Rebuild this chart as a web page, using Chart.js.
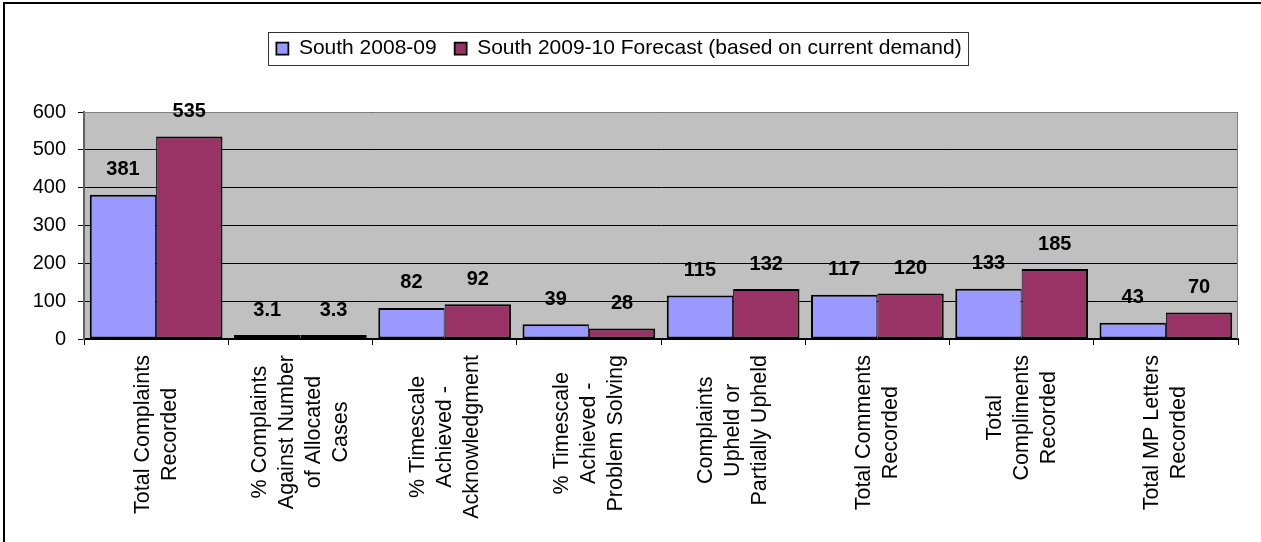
<!DOCTYPE html>
<html>
<head>
<meta charset="utf-8">
<script src="https://cdn.jsdelivr.net/npm/chart.js@4.4.0/dist/chart.umd.min.js"></script>
<style>
  body { margin: 0; background: #fff; }
  #wrap { width: 1261px; height: 542px; }
</style>
</head>
<body>
<div id="wrap"><canvas id="chart" width="1261" height="542"></canvas></div>
<script>
// categories, one array of lines per group
const categories = [
  ["Total Complaints", "Recorded"],
  ["% Complaints", "Against Number", "of Allocated", "Cases"],
  ["% Timescale", "Achieved -", "Acknowledgment"],
  ["% Timescale", "Achieved -", "Problem Solving"],
  ["Complaints", "Upheld or", "Partially Upheld"],
  ["Total Comments", "Recorded"],
  ["Total", "Compliments", "Recorded"],
  ["Total MP Letters", "Recorded"]
];
const seriesNames = ["South 2008-09", "South 2009-10 Forecast (based on current demand)"];
const south0809 = [381, 3.1, 82, 39, 115, 117, 133, 43];
const south0910 = [535, 3.3, 92, 28, 132, 120, 185, 70];
const yTickValues = [0, 100, 200, 300, 400, 500, 600];

const FONT = '"Liberation Sans", Arial, sans-serif';
Chart.defaults.font.family = FONT;
Chart.defaults.color = "#000";

// white page, grey plot background, frame lines
const framePlugin = {
  id: "frame",
  beforeDraw(chart) {
    const { ctx, chartArea: a } = chart;
    ctx.save();
    ctx.fillStyle = "#fff";
    ctx.fillRect(0, 0, chart.width, chart.height);
    ctx.fillStyle = "#C0C0C0";
    ctx.fillRect(a.left, a.top, a.right - a.left, a.bottom - a.top);
    ctx.restore();
  },
  beforeDatasetsDraw(chart) {
    const { ctx, chartArea: a } = chart;
    const top = Math.round(a.top) + 0.5;
    const right = Math.round(a.right) - 0.5;
    ctx.save();
    ctx.strokeStyle = "#808080";
    ctx.lineWidth = 1;
    ctx.beginPath();
    ctx.moveTo(a.left, top);
    ctx.lineTo(right, top);
    ctx.lineTo(right, a.bottom);
    ctx.stroke();
    ctx.restore();
  },
  afterDraw(chart) {
    const { ctx } = chart;
    ctx.save();
    ctx.strokeStyle = "#000";
    ctx.lineWidth = 2;
    ctx.beginPath();
    ctx.moveTo(4, chart.height);
    ctx.lineTo(4, 3);
    ctx.lineTo(chart.width, 3);
    ctx.stroke();
    ctx.restore();
  }
};

// extra room under the legend, and a box round it
const legendPlugin = {
  id: "legendBox",
  afterInit(chart) {
    const legend = chart.legend;
    const fit = legend.fit;
    legend.fit = function () {
      fit.call(this);
      this.height += 43;
    };
  },
  afterDraw(chart) {
    const boxes = chart.legend.legendHitBoxes;
    if (!boxes || !boxes.length) return;
    const first = boxes[0];
    const last = boxes[boxes.length - 1];
    const { ctx } = chart;
    ctx.save();
    ctx.strokeStyle = "#333";
    ctx.lineWidth = 1;
    const x0 = Math.round(first.left - 8) + 0.5;
    const x1 = Math.round(last.left + last.width + 6) + 0.5;
    const y0 = Math.round(first.top - 6) + 0.5;
    const y1 = Math.round(first.top + first.height + 6) + 0.5;
    ctx.strokeRect(x0, y0, x1 - x0, y1 - y0);
    ctx.restore();
  }
};

// numbers above each bar
const valueLabels = {
  id: "valueLabels",
  afterDatasetsDraw(chart) {
    const { ctx } = chart;
    ctx.save();
    ctx.font = "bold 20px " + FONT;
    ctx.fillStyle = "#000";
    ctx.textAlign = "center";
    ctx.textBaseline = "middle";
    chart.data.datasets.forEach((ds, di) => {
      chart.getDatasetMeta(di).data.forEach((bar, i) => {
        ctx.fillText(String(ds.data[i]), bar.x, bar.y - 25);
      });
    });
    ctx.restore();
  }
};

// rotated category names, lines centred on each other
const categoryLabels = {
  id: "categoryLabels",
  afterDraw(chart) {
    const { ctx, chartArea } = chart;
    const xScale = chart.scales.x;
    const lineH = 27;
    const blockTop = chartArea.bottom + 16;
    ctx.save();
    ctx.font = "21.5px " + FONT;
    ctx.fillStyle = "#000";
    ctx.textAlign = "center";
    ctx.textBaseline = "middle";
    chart.data.labels.forEach((lines, i) => {
      const x = xScale.getPixelForTick(i);
      const maxW = Math.max(...lines.map(l => ctx.measureText(l).width));
      ctx.save();
      ctx.translate(x, blockTop + maxW / 2);
      ctx.rotate(-Math.PI / 2);
      lines.forEach((line, j) => {
        ctx.fillText(line, 0, (j - (lines.length - 1) / 2) * lineH);
      });
      ctx.restore();
    });
    ctx.restore();
  }
};

new Chart(document.getElementById("chart"), {
  type: "bar",
  data: {
    labels: categories,
    datasets: [
      {
        label: seriesNames[0],
        data: south0809,
        backgroundColor: "#9999FF",
        borderColor: "#000",
        borderWidth: { top: 2, left: 2, right: 1, bottom: 2 },
        borderSkipped: false
      },
      {
        label: seriesNames[1],
        data: south0910,
        backgroundColor: "#993366",
        borderColor: "#000",
        borderWidth: { top: 2, left: 1, right: 2, bottom: 2 },
        borderSkipped: false
      }
    ]
  },
  options: {
    responsive: false,
    animation: false,
    devicePixelRatio: 1,
    layout: { padding: { top: 20, right: 23, bottom: 197, left: 0 } },
    datasets: {
      bar: { categoryPercentage: 0.92, barPercentage: 1.0, minBarLength: 4 }
    },
    plugins: {
      tooltip: { enabled: false },
      legend: {
        position: "top",
        labels: {
          font: { size: 21 },
          color: "#000",
          boxWidth: 12,
          boxHeight: 12,
          padding: 18
        }
      }
    },
    scales: {
      x: {
        ticks: { display: false },
        grid: {
          offset: true,
          drawOnChartArea: false,
          color: "#000",
          tickLength: 6
        },
        border: { color: "#000", width: 2 }
      },
      y: {
        min: 0,
        max: 600,
        afterBuildTicks(scale) {
          scale.ticks = yTickValues.map(v => ({ value: v }));
        },
        afterFit(scale) {
          scale.width = 84;
        },
        ticks: {
          font: { size: 20 },
          color: "#000",
          padding: 12
        },
        grid: { color: "#000", lineWidth: 1, tickLength: 6 },
        border: { color: "#606060", width: 2 }
      }
    }
  },
  plugins: [framePlugin, legendPlugin, valueLabels, categoryLabels]
});
</script>
</body>
</html>
